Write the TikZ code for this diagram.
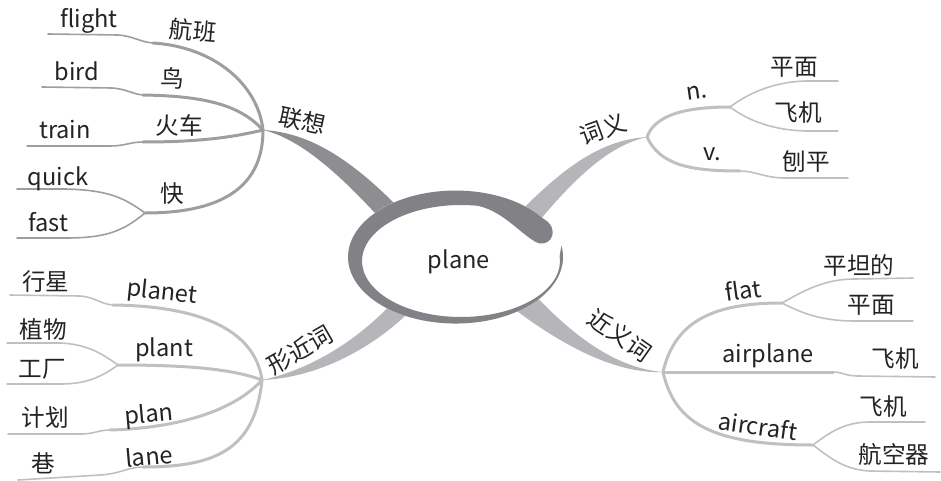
\documentclass[tikz,border=0pt]{standalone}
\usepackage{fontspec}
\setmainfont{Noto Sans CJK SC}
\usetikzlibrary{calc}
\definecolor{ringgray}{RGB}{130,130,134}
\definecolor{darktrunk}{RGB}{142,142,146}
\definecolor{lighttrunk}{RGB}{182,182,186}
\definecolor{darktwig}{RGB}{158,158,162}
\definecolor{lighttwig}{RGB}{192,192,195}
\definecolor{ink}{RGB}{35,35,35}
\tikzset{
  lbl/.style={text=ink,font=\fontsize{11.8}{14}\selectfont,inner sep=0pt},
  twig/.style={line width=1.5pt,line cap=round},
  leaf/.style={line width=0.8pt,line cap=round}
}
\begin{document}
\begin{tikzpicture}[x=0.5pt,y=-0.5pt]
\useasboundingbox (0,0) rectangle (941,481);
\coordinate (c) at (455.5,257);
\coordinate (assoc) at (263,130);
\coordinate (mean) at (647,137);
\coordinate (form) at (262,380);
\coordinate (syn) at (663,372);
\coordinate (capA) at (543.6,218.9);
\fill[darktrunk] (assoc) .. controls (315,133) and (360,165) .. (418,228) -- (402,243) .. controls (352,186) and (306,140) .. (assoc);
\fill[lighttrunk] (mean) .. controls (600,140) and (562,168) .. (512,220) -- (530,232) .. controls (574,178) and (608,146) .. (mean);
\fill[lighttrunk] (form) .. controls (310,370) and (365,338) .. (405,288) -- (420,301) .. controls (375,350) and (315,378) .. (form);
\fill[lighttrunk] (syn) .. controls (615,368) and (570,335) .. (524,283) -- (505,302) .. controls (560,345) and (615,374) .. (syn);
\fill[white] (c) ellipse[x radius=107.5,y radius=66.5];
\fill[ringgray] (capA) arc[start angle=-35,end angle=-370,x radius=107.5,y radius=66.5] -- ($(461,261)+(-365:99 and 56)$) arc[start angle=-365,end angle=-80,x radius=99,y radius=56] .. controls (505,212) and (522,236) .. (538,243) .. controls (552,247) and (560,228) .. (capA) -- cycle;
\node[lbl] (plane) at (459,262) {plane};
\coordinate (flightS) at (153,43);
\coordinate (flightE) at (48,34);
\coordinate (birdS) at (143,95);
\coordinate (birdE) at (42,87);
\coordinate (trainS) at (143,142);
\coordinate (trainE) at (27,146);
\coordinate (fastQ) at (145,213);
\coordinate (quickE) at (17,189);
\coordinate (fastE) at (17,238);
\draw[twig,darktwig] (assoc) .. controls (258,85) and (215,47) .. (flightS);
\draw[leaf,darktwig] (flightS) .. controls (140,42) and (133,36) .. (118,35) -- (flightE);
\draw[twig,darktwig] (assoc) .. controls (240,105) and (205,96) .. (birdS);
\draw[leaf,darktwig] (birdS) .. controls (132,94) and (127,89) .. (112,88) -- (birdE);
\draw[twig,darktwig] (assoc) .. controls (230,138) and (195,142) .. (trainS);
\draw[leaf,darktwig] (trainS) .. controls (130,142) and (125,146) .. (110,146) -- (trainE);
\draw[twig,darktwig] (assoc) .. controls (263,185) and (225,213) .. (fastQ);
\draw[leaf,darktwig] (fastQ) .. controls (122,196) and (105,190) .. (65,189) -- (quickE);
\draw[leaf,darktwig] (fastQ) .. controls (122,232) and (105,238) .. (65,238) -- (fastE);
\coordinate (nHub) at (730,107);
\coordinate (nTop) at (838,81);
\coordinate (nBot) at (838,131);
\coordinate (vS) at (740,171);
\coordinate (vE) at (848,178);
\draw[twig,lighttwig] (mean) .. controls (655,115) and (685,107) .. (nHub);
\draw[leaf,lighttwig] (nHub) .. controls (750,92) and (775,82) .. (805,81) -- (nTop);
\draw[leaf,lighttwig] (nHub) .. controls (750,122) and (775,130) .. (805,131) -- (nBot);
\draw[twig,lighttwig] (mean) .. controls (660,165) and (690,171) .. (vS);
\draw[leaf,lighttwig] (vS) .. controls (755,171) and (765,178) .. (785,178) -- (vE);
\coordinate (flatF) at (782,303);
\coordinate (flatTop) at (913,278);
\coordinate (flatBot) at (913,321);
\coordinate (airS) at (833,372);
\coordinate (airE) at (935,377);
\coordinate (craftA) at (813,445);
\coordinate (craftTop) at (925,422);
\coordinate (craftBot) at (940,472);
\draw[twig,lighttwig] (syn) .. controls (675,320) and (715,303) .. (flatF);
\draw[leaf,lighttwig] (flatF) .. controls (805,290) and (825,279) .. (855,279) -- (flatTop);
\draw[leaf,lighttwig] (flatF) .. controls (805,315) and (825,321) .. (855,321) -- (flatBot);
\draw[twig,lighttwig] (syn) -- (airS);
\draw[leaf,lighttwig] (airS) .. controls (843,372) and (845,376) .. (858,376) -- (airE);
\draw[twig,lighttwig] (syn) .. controls (675,425) and (715,445) .. (craftA);
\draw[leaf,lighttwig] (craftA) .. controls (830,432) and (845,422) .. (870,422) -- (craftTop);
\draw[leaf,lighttwig] (craftA) .. controls (830,458) and (845,470) .. (870,471) -- (craftBot);
\coordinate (planetS) at (113,305);
\coordinate (planetE) at (10,295);
\coordinate (plantP) at (118,365);
\coordinate (plantTop) at (7,343);
\coordinate (plantBot) at (7,384);
\coordinate (planS) at (110,430);
\coordinate (planE) at (8,434);
\coordinate (laneS) at (143,467);
\coordinate (laneE) at (18,480);
\draw[twig,lighttwig] (form) .. controls (255,330) and (200,306) .. (planetS);
\draw[leaf,lighttwig] (planetS) .. controls (100,304) and (95,297) .. (80,296) -- (planetE);
\draw[twig,lighttwig] (form) .. controls (230,368) and (180,365) .. (plantP);
\draw[leaf,lighttwig] (plantP) .. controls (100,352) and (85,344) .. (60,343) -- (plantTop);
\draw[leaf,lighttwig] (plantP) .. controls (100,378) and (85,384) .. (60,384) -- (plantBot);
\draw[twig,lighttwig] (form) .. controls (235,410) and (180,428) .. (planS);
\draw[leaf,lighttwig] (planS) .. controls (98,430) and (95,434) .. (80,434) -- (planE);
\draw[twig,lighttwig] (form) .. controls (255,450) and (215,467) .. (laneS);
\draw[leaf,lighttwig] (laneS) .. controls (128,467) and (120,474) .. (100,475) -- (laneE);
\node[lbl] (flight) at (89,21) {flight};
\node[lbl,rotate=-5] (flightzh) at (193,31) {航班};
\node[lbl] (bird) at (77,71) {bird};
\node[lbl] (birdzh) at (172,78) {鸟};
\node[lbl] (train) at (65,130) {train};
\node[lbl] (trainzh) at (179,125) {火车};
\node[lbl] (quick) at (58,179) {quick};
\node[lbl] (fast) at (48,222) {fast};
\node[lbl] (fastzh) at (172,194) {快};
\node[lbl,rotate=-12] (assoczh) at (302,121) {联想};
\node[lbl,rotate=20] (meanzh) at (603,129) {词义};
\node[lbl,rotate=8] (noun) at (697,93) {n.};
\node[lbl] (nounA) at (794,67) {平面};
\node[lbl] (nounB) at (798,113) {飞机};
\node[lbl] (verb) at (712,154) {v.};
\node[lbl] (verbA) at (806,162) {刨平};
\node[lbl,rotate=-35] (synzh) at (620,335) {近义词};
\node[lbl,rotate=8] (flat) at (743,290) {flat};
\node[lbl] (flatA) at (859,265) {平坦的};
\node[lbl] (flatB) at (871,305) {平面};
\node[lbl] (airplane) at (768,356) {airplane};
\node[lbl] (airplaneA) at (895,359) {飞机};
\node[lbl,rotate=-8] (aircraft) at (758,426) {aircraft};
\node[lbl] (aircraftA) at (883,407) {飞机};
\node[lbl] (aircraftB) at (894,454) {航空器};
\node[lbl,rotate=30] (formzh) at (300,350) {形近词};
\node[lbl,rotate=-6] (planet) at (162,293) {planet};
\node[lbl] (planetA) at (46,282) {行星};
\node[lbl] (plant) at (164,350) {plant};
\node[lbl] (plantA) at (43,329) {植物};
\node[lbl] (plantB) at (42,369) {工厂};
\node[lbl,rotate=5] (plan) at (149,416) {plan};
\node[lbl] (planA) at (45,418) {计划};
\node[lbl,rotate=5] (lane) at (149,456) {lane};
\node[lbl] (laneA) at (43,463) {巷};
\end{tikzpicture}
\end{document}
